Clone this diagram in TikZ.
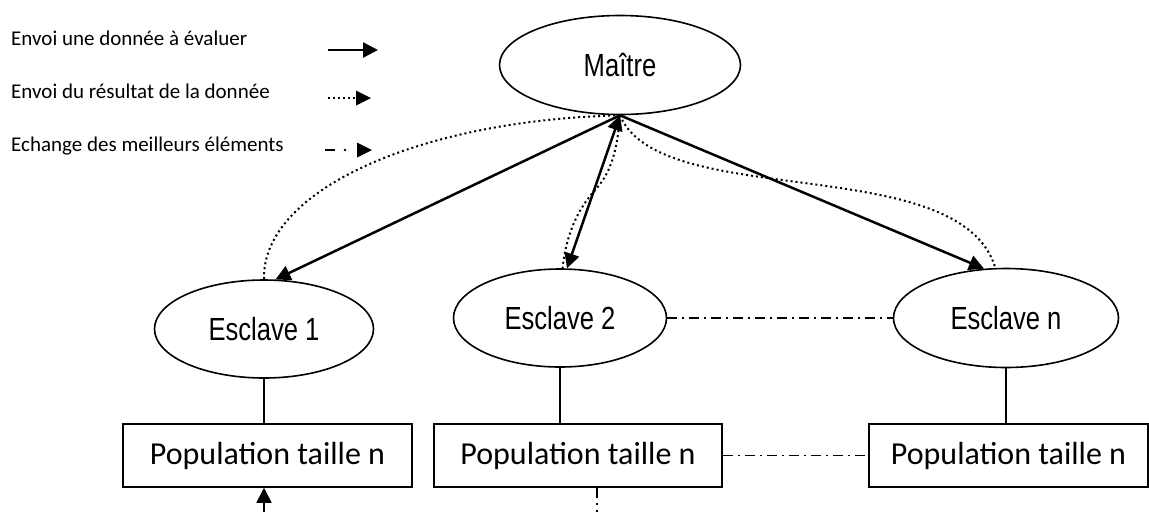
\documentclass[tikz,border=0pt]{standalone}
\usepackage{fontspec}
\setmainfont{Carlito}
\newfontfamily\narrowsans[FakeStretch=0.8]{Liberation Sans}
\usetikzlibrary{arrows.meta,shapes.geometric}

\begin{document}
\begin{tikzpicture}[x=1pt,y=-1pt,
  ell/.style={ellipse, draw, line width=1.6pt, inner sep=0pt,
    font=\narrowsans\fontsize{32}{32}\selectfont},
  popbox/.style={rectangle, draw, line width=1.5pt, minimum height=63pt,
    inner sep=0pt, font=\fontsize{32}{32}\selectfont},
  legendtext/.style={anchor=base west, inner sep=0pt,
    font=\fontsize{21}{21}\selectfont},
  tip/.style={Triangle[length=15pt,width=15pt]},
  sendarrow/.style={line width=2.5pt, -{Triangle[length=15pt,width=15pt]}},
  resultline/.style={line width=2pt, dash pattern=on 2pt off 3pt},
  exchange/.style={line width=1.2pt, dash pattern=on 10pt off 5pt on 2pt off 5pt},
  link/.style={line width=1.5pt}
]
\useasboundingbox (0,0) rectangle (1149,512);

% legend
\node[legendtext] (l1) at (11,45) {Envoi une donnée à évaluer};
\node[legendtext] (l2) at (11,98) {Envoi du résultat de la donnée};
\node[legendtext] (l3) at (11,151) {Echange des meilleurs éléments};
\coordinate (a1s) at (328,50);  \coordinate (a1e) at (378,50);
\coordinate (a2s) at (328,98);  \coordinate (a2e) at (371,98);
\coordinate (a3s) at (325,150); \coordinate (a3e) at (372,150);
\draw[sendarrow] (a1s) -- (a1e);
\draw[resultline] (a2s) -- ([xshift=-15pt]a2e);
\fill ([xshift=-15pt,yshift=-7.5pt]a2e) -- (a2e) -- ([xshift=-15pt,yshift=7.5pt]a2e) -- cycle;
\draw[line width=2.5pt] (a3s) -- ([xshift=10pt]a3s);
\fill ([xshift=20pt]a3s) circle (1.3pt);
\fill ([xshift=-15pt,yshift=-7.5pt]a3e) -- (a3e) -- ([xshift=-15pt,yshift=7.5pt]a3e) -- cycle;

% master and slaves
\node[ell, minimum width=241pt, minimum height=99pt] (maitre) at (620,65) {Maître};
\node[ell, minimum width=219pt, minimum height=98pt] (e1) at (264,329) {Esclave 1};
\node[ell, minimum width=213pt, minimum height=98pt] (e2) at (560,318) {Esclave 2};
\node[ell, minimum width=225pt, minimum height=99pt] (en) at (1006,318) {Esclave n};

% populations
\node[popbox, minimum width=289pt] (p1) at (267.5,455.5) {Population taille n};
\node[popbox, minimum width=288pt] (p2) at (578,455.5) {Population taille n};
\node[popbox, minimum width=279pt] (p3) at (1008.5,455.5) {Population taille n};

% slave to population links
\draw[link] (e1.south) -- (e1.south |- p1.north);
\draw[link] (e2.south) -- (e2.south |- p2.north);
\draw[link] (en.south) -- (en.south |- p3.north);

% data sent by the master
\draw[sendarrow] (maitre.south) -- (e1.77);
\draw[sendarrow] (maitre.south) -- (en.114);
\draw[line width=2.5pt, {Triangle[length=15pt,width=15pt]}-{Triangle[length=15pt,width=15pt]}]
  (maitre.south) -- (e2.82);

% results returned to the master
\draw[resultline] (e1.north) .. controls (262,190) and (420,120) .. (maitre.south);
\draw[resultline] (maitre.south) .. controls (660,212) and (960,150) .. (en.102);
\draw[resultline] (maitre.south) .. controls (616,170) and (602,182) .. (590,196)
  .. controls (576,214) and (566,236) .. (e2.87);

% exchange of the best elements
\draw[exchange] (e2.east) -- (en.west);
\draw[exchange] (p2.east) -- (p3.west);
\coordinate (b1) at (264,512);
\coordinate (b2) at (597,512);
\draw[exchange, line width=1.8pt, -{Triangle[length=15pt,width=15pt]}] (b1) -- (b1 |- p1.south);
\draw[exchange] (p2.south -| b2) -- (b2);
\end{tikzpicture}
\end{document}
